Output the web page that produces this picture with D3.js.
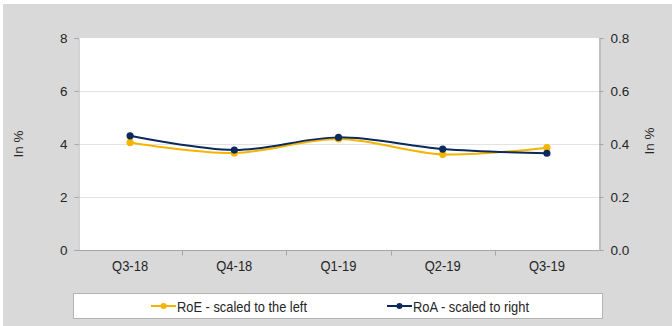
<!DOCTYPE html>
<html>
<head>
<meta charset="utf-8">
<script src="https://cdn.jsdelivr.net/npm/d3@7"></script>
<style>
  html, body { margin: 0; padding: 0; background: #ffffff; }
  svg { display: block; }
  .num { font-family: "Liberation Sans", Arial, sans-serif; font-size: 13.5px; fill: #262626; }
  .narrow { font-family: "Liberation Sans Narrow", "Arial Narrow", "Liberation Sans", sans-serif; fill: #262626; }
</style>
</head>
<body>
<svg id="chart" width="672" height="326"></svg>
<script>
// Quarterly return ratios
const quarters = ["Q3-18", "Q4-18", "Q1-19", "Q2-19", "Q3-19"];
const roeValues = [4.06, 3.66, 4.19, 3.61, 3.86];       // left axis, in %
const roaValues = [0.431, 0.377, 0.425, 0.381, 0.365];  // right axis, in %
const leftTicks = [0, 2, 4, 6, 8];
const rightTicks = [0, 0.2, 0.4, 0.6, 0.8];
const seriesNames = ["RoE - scaled to the left", "RoA - scaled to right"];

const colorRoE = "#f4b400";
const colorRoA = "#0b2a5b";
const axisColor = "#a6a6a6";
const gridColor = "#e3e3e3";

const svg = d3.select("#chart");

// panel background
svg.append("rect").attr("x", 3).attr("y", 4).attr("width", 669).attr("height", 322).attr("fill", "#d9d9d9");

const plot = { left: 78, right: 599, top: 38, bottom: 250 };

svg.append("rect")
  .attr("x", plot.left).attr("y", plot.top)
  .attr("width", plot.right - plot.left).attr("height", plot.bottom - plot.top)
  .attr("fill", "#ffffff");

const x = d3.scaleBand().domain(quarters).range([plot.left, plot.right]).padding(0);
const yL = d3.scaleLinear().domain([0, 8]).range([plot.bottom, plot.top]);
const yR = d3.scaleLinear().domain([0, 0.8]).range([plot.bottom, plot.top]);

// horizontal gridlines
svg.append("g").selectAll("line")
  .data(leftTicks.filter(d => d > 0 && d < 8))
  .join("line")
  .attr("x1", plot.left).attr("x2", plot.right)
  .attr("y1", d => yL(d) + 0.5).attr("y2", d => yL(d) + 0.5)
  .attr("stroke", gridColor).attr("stroke-width", 1);

// left axis
const gL = svg.append("g").attr("transform", `translate(${plot.left + 0.5},0)`)
  .call(d3.axisLeft(yL).tickValues(leftTicks).tickFormat(d3.format("d")).tickSize(4).tickPadding(7));
// right axis
const gR = svg.append("g").attr("transform", `translate(${plot.right + 0.5},0)`)
  .call(d3.axisRight(yR).tickValues(rightTicks).tickFormat(d3.format(".1f")).tickSize(4).tickPadding(7));
[gL, gR].forEach(g => {
  g.select(".domain").attr("stroke", axisColor);
  g.selectAll(".tick line").attr("stroke", axisColor);
  g.selectAll(".tick text").attr("class", "num").attr("fill", null);
});

// bottom axis with ticks at category boundaries
const gB = svg.append("g").attr("transform", `translate(0,${plot.bottom + 0.5})`);
gB.append("line").attr("x1", plot.left).attr("x2", plot.right)
  .attr("stroke", axisColor);
gB.selectAll("line.tk")
  .data(quarters.slice(1))
  .join("line").attr("class", "tk")
  .attr("x1", d => Math.round(x(d)) + 0.5).attr("x2", d => Math.round(x(d)) + 0.5)
  .attr("y1", 0).attr("y2", 5).attr("stroke", axisColor);
gB.selectAll("text")
  .data(quarters)
  .join("text")
  .attr("class", "narrow")
  .attr("font-size", 14)
  .attr("x", d => x(d) + x.bandwidth() / 2)
  .attr("y", 20)
  .attr("text-anchor", "middle")
  .attr("textLength", 36)
  .attr("lengthAdjust", "spacingAndGlyphs")
  .text(d => d);

// axis titles
svg.append("text").attr("class", "num")
  .attr("transform", "translate(23,144) rotate(-90)")
  .attr("text-anchor", "middle").text("In %");
svg.append("text").attr("class", "num")
  .attr("transform", "translate(654,141) rotate(-90)")
  .attr("text-anchor", "middle").text("In %");

// series
const cx = d => x(d) + x.bandwidth() / 2;
const series = [
  { values: roeValues, y: yL, color: colorRoE },
  { values: roaValues, y: yR, color: colorRoA }
];
series.forEach(s => {
  const pts = quarters.map((q, i) => [cx(q), s.y(s.values[i])]);
  svg.append("path")
    .attr("d", d3.line().curve(d3.curveCatmullRom.alpha(0.5))(pts))
    .attr("fill", "none").attr("stroke", s.color).attr("stroke-width", 2);
  svg.append("g").selectAll("circle")
    .data(pts).join("circle")
    .attr("cx", d => d[0]).attr("cy", d => d[1]).attr("r", 3.6)
    .attr("fill", s.color);
});

// legend
const lg = svg.append("g");
lg.append("rect").attr("x", 73.5).attr("y", 293.5).attr("width", 529).attr("height", 25)
  .attr("fill", "#ffffff").attr("stroke", "#b3b3b3");
const legendX = [151, 387];
const legendTextWidth = [130, 116];
[colorRoE, colorRoA].forEach((c, i) => {
  const g = lg.append("g").attr("transform", `translate(${legendX[i]},306)`);
  g.append("line").attr("x1", 0).attr("x2", 25).attr("stroke", c).attr("stroke-width", 2);
  g.append("circle").attr("cx", 12.5).attr("r", 3).attr("fill", c);
  g.append("text").attr("class", "narrow").attr("font-size", 15)
    .attr("x", 26).attr("y", 5.5)
    .attr("textLength", legendTextWidth[i])
    .attr("lengthAdjust", "spacingAndGlyphs")
    .text(seriesNames[i]);
});
</script>
</body>
</html>
